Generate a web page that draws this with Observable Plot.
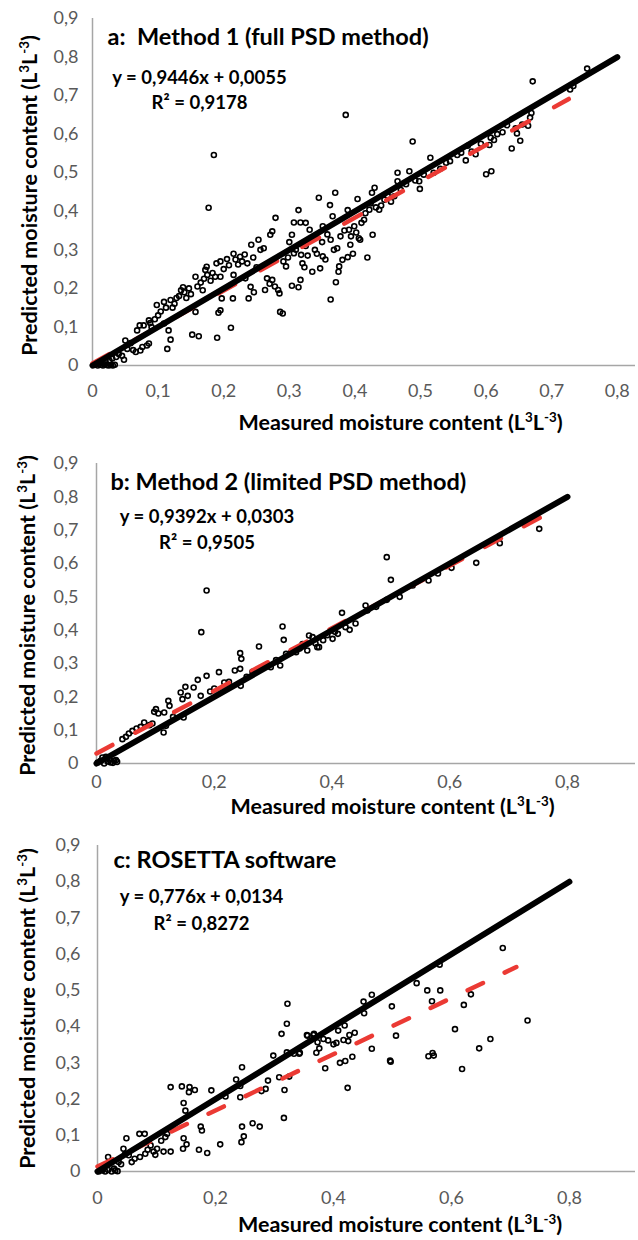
<!DOCTYPE html>
<html>
<head>
<meta charset="utf-8">
<script src="https://cdn.jsdelivr.net/npm/d3@7"></script>
<script src="https://cdn.jsdelivr.net/npm/@observablehq/plot@0.6"></script>
<style>
  html, body { margin: 0; padding: 0; background: #fff; }
  #root { position: relative; width: 638px; height: 1240px; overflow: hidden; }
  #root svg { position: absolute; left: 0; }
</style>
</head>
<body>
<div id="root"></div>
<script>
// ---------------- DATA ----------------
const yTicks = [0, 0.1, 0.2, 0.3, 0.4, 0.5, 0.6, 0.7, 0.8, 0.9];
const xTicksA = [0, 0.1, 0.2, 0.3, 0.4, 0.5, 0.6, 0.7, 0.8];
const xTicksBC = [0, 0.2, 0.4, 0.6, 0.8];

const panelTitles = ["a:  Method 1 (full PSD method)", "b: Method 2 (limited PSD method)", "c: ROSETTA software"];
const equationTexts = ["y = 0,9446x + 0,0055", "y = 0,9392x + 0,0303", "y = 0,776x + 0,0134"];
const r2Texts = ["R² = 0,9178", "R² = 0,9505", "R² = 0,8272"];
const slopes = [0.9446, 0.9392, 0.776];
const intercepts = [0.0055, 0.0303, 0.0134];
const fitRangeEnd = [0.726, 0.755, 0.71];
const identityLine = [[0, 0], [0.8, 0.8]];
const xTitle = "Measured moisture content (L³L⁻³)";
const yTitle = "Predicted moisture content (L³L⁻³)";

// measured, predicted
const pointsA = [
[0.002,0.001],[0.005,0.003],[0.008,0.000],[0.010,0.004],[0.013,0.002],[0.016,0.000],[0.019,0.003],[0.022,0.001],[0.025,0.000],[0.028,0.002],[0.031,0.000],[0.034,0.002],[0.012,0.008],[0.020,0.010],[0.026,0.012],[0.030,0.018],[0.036,0.022],[0.040,0.030],[0.045,0.025],[0.048,0.015],[0.053,0.043],[0.050,0.065],[0.058,0.058],[0.062,0.040],[0.066,0.035],[0.073,0.039],[0.076,0.048],[0.083,0.052],[0.086,0.057],[0.068,0.091],[0.072,0.104],[0.078,0.104],[0.086,0.117],[0.088,0.110],[0.090,0.100],[0.095,0.120],[0.098,0.157],[0.100,0.130],[0.104,0.140],[0.109,0.109],[0.109,0.165],[0.112,0.150],[0.114,0.043],[0.116,0.091],[0.119,0.067],[0.119,0.170],[0.122,0.150],[0.125,0.160],[0.128,0.175],[0.132,0.180],[0.135,0.195],[0.138,0.203],[0.140,0.190],[0.143,0.175],[0.147,0.200],[0.150,0.185],[0.152,0.080],[0.157,0.139],[0.157,0.230],[0.160,0.205],[0.162,0.076],[0.165,0.215],[0.168,0.195],[0.170,0.225],[0.172,0.248],[0.174,0.256],[0.175,0.235],[0.177,0.409],[0.180,0.220],[0.183,0.240],[0.185,0.546],[0.187,0.230],[0.189,0.265],[0.190,0.072],[0.192,0.137],[0.195,0.143],[0.195,0.230],[0.195,0.270],[0.197,0.174],[0.200,0.250],[0.205,0.276],[0.208,0.260],[0.211,0.098],[0.214,0.174],[0.215,0.235],[0.215,0.290],[0.218,0.275],[0.222,0.262],[0.225,0.282],[0.228,0.270],[0.232,0.288],[0.233,0.226],[0.236,0.265],[0.238,0.174],[0.241,0.204],[0.242,0.313],[0.245,0.280],[0.246,0.190],[0.250,0.255],[0.253,0.326],[0.256,0.300],[0.261,0.304],[0.263,0.196],[0.266,0.226],[0.270,0.212],[0.271,0.339],[0.274,0.348],[0.274,0.222],[0.278,0.205],[0.279,0.383],[0.283,0.196],[0.285,0.187],[0.286,0.139],[0.290,0.135],[0.291,0.270],[0.295,0.257],[0.298,0.280],[0.300,0.320],[0.304,0.339],[0.304,0.207],[0.307,0.291],[0.307,0.371],[0.310,0.300],[0.314,0.203],[0.314,0.403],[0.317,0.371],[0.317,0.222],[0.318,0.287],[0.320,0.265],[0.323,0.255],[0.325,0.370],[0.325,0.310],[0.328,0.285],[0.331,0.352],[0.333,0.330],[0.335,0.243],[0.339,0.300],[0.342,0.290],[0.345,0.435],[0.347,0.252],[0.350,0.320],[0.351,0.361],[0.351,0.283],[0.355,0.275],[0.358,0.340],[0.362,0.416],[0.363,0.326],[0.363,0.171],[0.366,0.387],[0.368,0.300],[0.370,0.448],[0.371,0.216],[0.373,0.304],[0.375,0.243],[0.376,0.257],[0.378,0.335],[0.381,0.274],[0.384,0.350],[0.386,0.650],[0.389,0.281],[0.389,0.403],[0.391,0.352],[0.393,0.313],[0.394,0.335],[0.397,0.290],[0.399,0.361],[0.402,0.345],[0.404,0.432],[0.406,0.330],[0.408,0.326],[0.410,0.370],[0.414,0.378],[0.416,0.395],[0.419,0.280],[0.422,0.404],[0.424,0.420],[0.426,0.448],[0.427,0.339],[0.430,0.461],[0.432,0.410],[0.437,0.404],[0.440,0.415],[0.445,0.430],[0.450,0.440],[0.455,0.425],[0.460,0.439],[0.465,0.478],[0.465,0.500],[0.470,0.455],[0.478,0.470],[0.483,0.504],[0.488,0.581],[0.492,0.480],[0.498,0.478],[0.499,0.458],[0.505,0.495],[0.515,0.539],[0.520,0.500],[0.530,0.510],[0.539,0.526],[0.545,0.530],[0.556,0.546],[0.562,0.552],[0.569,0.532],[0.572,0.570],[0.578,0.555],[0.584,0.548],[0.592,0.575],[0.600,0.496],[0.605,0.572],[0.607,0.591],[0.608,0.504],[0.612,0.585],[0.617,0.600],[0.625,0.605],[0.632,0.623],[0.639,0.563],[0.645,0.615],[0.647,0.602],[0.652,0.583],[0.655,0.625],[0.664,0.622],[0.667,0.643],[0.669,0.655],[0.671,0.737],[0.728,0.716],[0.733,0.725],[0.754,0.770]
];

const pointsB = [
[0.002,0.003],[0.007,0.008],[0.013,0.000],[0.019,0.006],[0.024,0.003],[0.030,0.008],[0.035,0.005],[0.010,0.018],[0.016,0.020],[0.022,0.012],[0.028,0.002],[0.033,0.010],[0.044,0.073],[0.050,0.080],[0.055,0.090],[0.061,0.098],[0.068,0.105],[0.075,0.110],[0.081,0.123],[0.090,0.115],[0.095,0.120],[0.098,0.155],[0.101,0.163],[0.105,0.150],[0.114,0.093],[0.115,0.153],[0.118,0.113],[0.122,0.188],[0.124,0.173],[0.130,0.140],[0.143,0.213],[0.146,0.193],[0.148,0.138],[0.151,0.230],[0.155,0.203],[0.165,0.228],[0.172,0.251],[0.177,0.203],[0.178,0.394],[0.187,0.519],[0.187,0.263],[0.193,0.216],[0.200,0.225],[0.208,0.274],[0.217,0.243],[0.225,0.245],[0.235,0.279],[0.244,0.331],[0.244,0.284],[0.245,0.233],[0.246,0.314],[0.255,0.260],[0.265,0.275],[0.276,0.351],[0.285,0.290],[0.296,0.289],[0.305,0.310],[0.312,0.294],[0.316,0.411],[0.318,0.371],[0.322,0.329],[0.330,0.332],[0.339,0.334],[0.345,0.345],[0.350,0.358],[0.358,0.339],[0.361,0.384],[0.367,0.379],[0.372,0.360],[0.375,0.349],[0.378,0.349],[0.385,0.370],[0.392,0.385],[0.401,0.374],[0.405,0.395],[0.410,0.389],[0.417,0.452],[0.423,0.409],[0.430,0.401],[0.440,0.420],[0.457,0.474],[0.460,0.459],[0.475,0.470],[0.493,0.619],[0.493,0.491],[0.500,0.551],[0.515,0.500],[0.537,0.534],[0.564,0.549],[0.580,0.570],[0.603,0.587],[0.645,0.602],[0.663,0.659],[0.685,0.661],[0.733,0.726],[0.752,0.704]
];

const pointsC = [
[0.002,0.000],[0.008,0.003],[0.013,0.000],[0.018,0.004],[0.024,0.000],[0.030,0.003],[0.034,0.001],[0.010,0.008],[0.028,0.008],[0.018,0.040],[0.036,0.026],[0.040,0.020],[0.044,0.063],[0.047,0.049],[0.049,0.092],[0.053,0.045],[0.058,0.026],[0.063,0.035],[0.072,0.040],[0.071,0.104],[0.080,0.104],[0.081,0.049],[0.085,0.060],[0.090,0.072],[0.095,0.055],[0.098,0.046],[0.101,0.063],[0.108,0.085],[0.112,0.055],[0.115,0.095],[0.118,0.104],[0.124,0.055],[0.124,0.233],[0.143,0.235],[0.145,0.063],[0.146,0.092],[0.146,0.189],[0.149,0.168],[0.151,0.075],[0.155,0.219],[0.156,0.233],[0.165,0.225],[0.172,0.060],[0.175,0.124],[0.177,0.113],[0.186,0.051],[0.193,0.224],[0.208,0.075],[0.217,0.207],[0.235,0.254],[0.242,0.236],[0.242,0.205],[0.244,0.081],[0.245,0.288],[0.245,0.124],[0.248,0.097],[0.263,0.133],[0.275,0.124],[0.278,0.222],[0.285,0.228],[0.289,0.251],[0.298,0.320],[0.308,0.260],[0.312,0.380],[0.316,0.148],[0.317,0.225],[0.321,0.408],[0.321,0.329],[0.322,0.463],[0.325,0.262],[0.333,0.325],[0.342,0.325],[0.343,0.328],[0.355,0.377],[0.356,0.375],[0.366,0.377],[0.367,0.380],[0.371,0.328],[0.373,0.357],[0.376,0.340],[0.383,0.366],[0.386,0.285],[0.391,0.362],[0.400,0.351],[0.405,0.355],[0.408,0.389],[0.411,0.300],[0.417,0.363],[0.419,0.403],[0.420,0.305],[0.424,0.231],[0.425,0.360],[0.427,0.377],[0.432,0.317],[0.436,0.383],[0.451,0.469],[0.452,0.437],[0.465,0.488],[0.465,0.339],[0.496,0.306],[0.497,0.303],[0.499,0.456],[0.506,0.375],[0.541,0.520],[0.559,0.500],[0.561,0.318],[0.567,0.470],[0.568,0.327],[0.570,0.320],[0.580,0.571],[0.581,0.500],[0.606,0.393],[0.618,0.283],[0.621,0.460],[0.633,0.489],[0.647,0.340],[0.666,0.366],[0.687,0.617],[0.729,0.417]
];

const panelPoints = [pointsA, pointsB, pointsC];

// ---------------- LAYOUT ----------------
const W = 638;
const FONT = "Lato, 'Open Sans', sans-serif";
const layout = [
  {top: 0,   height: 438, ml: 92, mt: 18, mb: 73, xmax: 0.8277, xTicks: xTicksA,  xPad: 19, yPad: 14,
   title: [15, 19], eq: [107, 60], r2: [107, 85], xT: [36.5, 58], yT: [-62, 3.5], dash: "19,29"},
  {top: 438, height: 392, ml: 96, mt: 25, mb: 67, xmax: 0.9155, xTicks: xTicksBC, xPad: 12, yPad: 18,
   title: [14, 19], eq: [110.5, 54], r2: [110.5, 80], xT: [26.5, 44], yT: [-68, 2], dash: "18,26"},
  {top: 830, height: 410, ml: 97, mt: 15, mb: 69, xmax: 0.912, xTicks: xTicksBC, xPad: 20, yPad: 17,
   title: [16, 15], eq: [104, 52], r2: [104, 79], xT: [33.5, 54], yT: [-69, 0], dash: "17,24"}
];

const fmt = d => d === 0 ? "0" : d3.format(".1f")(d).replace(".", ",");
const root = document.getElementById("root");

// render "³" and "⁻³" as real superscript tspans
function superscriptify(svg) {
  d3.select(svg).selectAll("text").each(function () {
    const t = this.textContent;
    if (!/[³⁻]/.test(t) || this.querySelector("tspan")) return;
    const parts = t.split(/(⁻³|³)/);
    const el = d3.select(this).text(null);
    parts.forEach(p => {
      if (!p) return;
      if (p === "³" || p === "⁻³") {
        el.append("tspan").attr("baseline-shift", "super").attr("font-size", "62%").text(p === "³" ? "3" : "-3");
      } else {
        el.append("tspan").text(p);
      }
    });
  });
}

layout.forEach((L, i) => {
  const pts = panelPoints[i].map(([x, y]) => ({x, y}));
  const ident = identityLine.map(([x, y]) => ({x, y}));
  const fit = [0, fitRangeEnd[i]].map(x => ({x, y: slopes[i] * x + intercepts[i]}));
  const textStyle = {fill: "#000", fontWeight: "bold", fontFamily: FONT};

  const chart = Plot.plot({
    width: W,
    height: L.height,
    marginLeft: L.ml,
    marginRight: 3,
    marginTop: L.mt,
    marginBottom: L.mb,
    style: {fontFamily: FONT, fontSize: "18px", color: "#595959", background: "#fff"},
    x: {domain: [0, L.xmax], ticks: L.xTicks, tickFormat: fmt, tickSize: 0, tickPadding: L.xPad, label: null},
    y: {domain: [0, 0.9], ticks: yTicks, tickFormat: fmt, tickSize: 0, tickPadding: L.yPad, label: null},
    marks: [
      Plot.ruleX([0], {stroke: "#a6a6a6", strokeWidth: 1.5}),
      Plot.ruleY([0], {stroke: "#a6a6a6", strokeWidth: 1.5}),
      Plot.dot(pts, {x: "x", y: "y", r: 2.5, stroke: "#000", strokeWidth: 1.6, fill: "none"}),
      Plot.line(fit, {x: "x", y: "y", stroke: "#eb3a34", strokeWidth: 4.5, strokeDasharray: L.dash, strokeLinecap: "round"}),
      Plot.line(ident, {x: "x", y: "y", stroke: "#000", strokeWidth: 6, strokeLinecap: "round"}),
      Plot.text([panelTitles[i]], {text: d => d, frameAnchor: "top-left", dx: L.title[0], dy: L.title[1], textAnchor: "start", lineAnchor: "middle", fontSize: 23.5, ...textStyle}),
      Plot.text([equationTexts[i]], {text: d => d, frameAnchor: "top-left", dx: L.eq[0], dy: L.eq[1], textAnchor: "middle", lineAnchor: "middle", fontSize: 18.5, ...textStyle}),
      Plot.text([r2Texts[i]], {text: d => d, frameAnchor: "top-left", dx: L.r2[0], dy: L.r2[1], textAnchor: "middle", lineAnchor: "middle", fontSize: 18.5, ...textStyle}),
      Plot.text([xTitle], {text: d => d, frameAnchor: "bottom", dx: L.xT[0], dy: L.xT[1], textAnchor: "middle", lineAnchor: "middle", fontSize: 21.5, ...textStyle}),
      Plot.text([yTitle], {text: d => d, frameAnchor: "left", dx: L.yT[0], dy: L.yT[1], rotate: -90, textAnchor: "middle", lineAnchor: "middle", fontSize: 21.5, ...textStyle})
    ]
  });
  superscriptify(chart);
  chart.style.top = L.top + "px";
  root.appendChild(chart);
});
</script>
</body>
</html>
